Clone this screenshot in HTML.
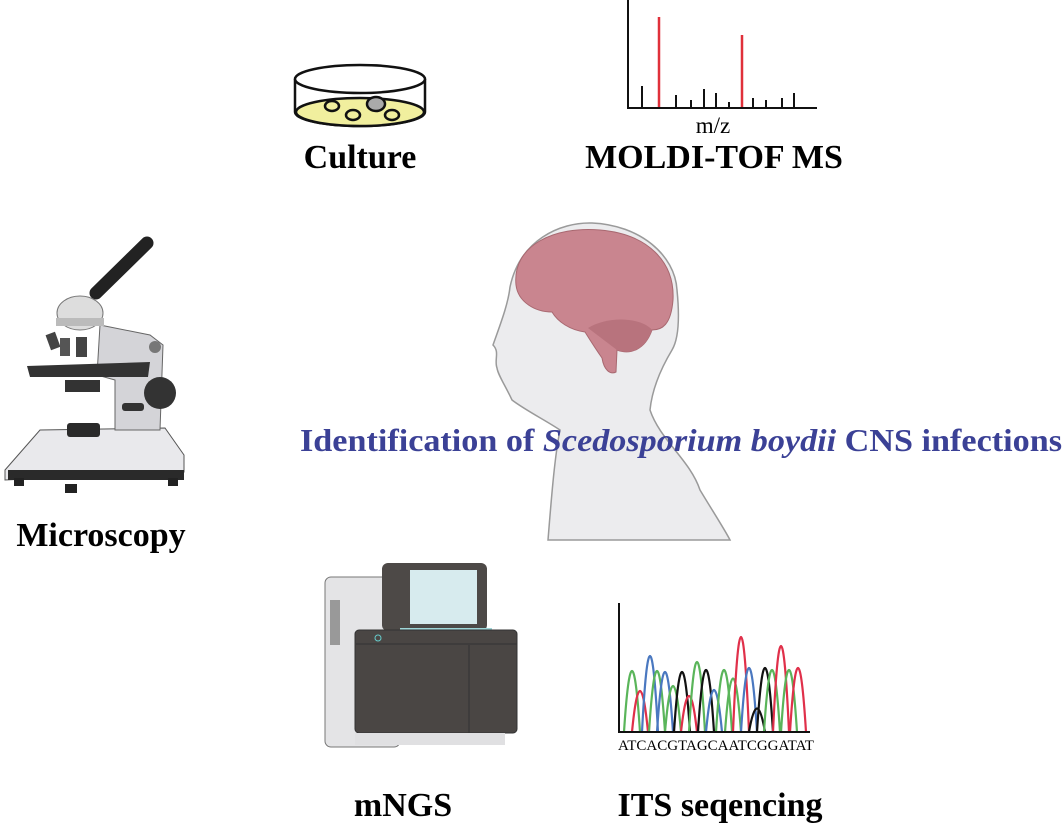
<!DOCTYPE html>
<html><head><meta charset="utf-8"><style>
html,body{margin:0;padding:0;background:#fff}
svg{display:block}
text{font-family:"Liberation Serif",serif}
</style></head><body>
<svg width="1064" height="828" viewBox="0 0 1064 828" xmlns="http://www.w3.org/2000/svg">
<!-- Petri dish -->
<g stroke="#111" stroke-width="2.5">
<path d="M295,79 L295,112 A65,14 0 0 0 425,112 L425,79" fill="#fff"/>
<ellipse cx="360" cy="112" rx="64" ry="14" fill="#f1ef9e"/>
<ellipse cx="360" cy="79" rx="65" ry="14" fill="#fff"/>
<ellipse cx="332" cy="106" rx="7" ry="5" fill="#f1ef9e"/>
<ellipse cx="353" cy="115" rx="7" ry="5" fill="#f1ef9e"/>
<ellipse cx="376" cy="104" rx="9" ry="7" fill="#aaa"/>
<ellipse cx="392" cy="115" rx="7" ry="5" fill="#f1ef9e"/>
</g>
<text x="360" y="168" font-size="34" font-weight="bold" text-anchor="middle">Culture</text>
<!-- MS -->
<g stroke="#111" stroke-width="2">
<line x1="628" y1="0" x2="628" y2="108"/><line x1="627" y1="108" x2="817" y2="108"/>
<line x1="642" y1="86" x2="642" y2="108"/><line x1="676" y1="95" x2="676" y2="108"/>
<line x1="691" y1="100" x2="691" y2="108"/><line x1="704" y1="89" x2="704" y2="108"/>
<line x1="716" y1="93" x2="716" y2="108"/><line x1="729" y1="102" x2="729" y2="108"/>
<line x1="753" y1="98" x2="753" y2="108"/><line x1="766" y1="100" x2="766" y2="108"/>
<line x1="782" y1="98" x2="782" y2="108"/><line x1="794" y1="93" x2="794" y2="108"/>
</g>
<line x1="659" y1="17" x2="659" y2="107" stroke="#e0303a" stroke-width="2.5"/>
<line x1="742" y1="35" x2="742" y2="107" stroke="#e0303a" stroke-width="2.5"/>
<text x="713" y="133" font-size="23" text-anchor="middle">m/z</text>
<text x="714" y="168" font-size="34" font-weight="bold" text-anchor="middle">MOLDI-TOF MS</text>
<!-- Head -->
<path d="M548,540 C552,490 555,455 560,430 C545,420 525,410 512,400 C505,385 498,375 497,368 C494,360 500,352 493,345 C500,325 508,305 510,287 C520,240 560,222 592,223 C640,225 675,255 677,290 C680,320 678,340 672,350 C660,370 652,390 650,410 C660,440 690,460 700,490 C712,510 725,530 730,540 Z" fill="#ececee" stroke="#9a9a9a" stroke-width="1.5"/>
<path d="M516,285 C512,245 555,226 600,230 C648,234 675,262 673,300 C671,325 662,330 652,330 C645,350 630,355 617,350 L616,372 C610,375 604,370 602,358 C595,348 590,340 585,332 C570,330 558,322 552,312 C535,312 518,302 516,285 Z" fill="#c9858f" stroke="#a86870" stroke-width="1"/>
<path d="M588,328 C610,315 642,318 652,330 C645,350 630,355 617,350" fill="#b8737d"/>
<text x="300" y="451" font-size="32" font-weight="bold" fill="#3b4196" textLength="762" lengthAdjust="spacingAndGlyphs">Identification of <tspan font-style="italic">Scedosporium boydii</tspan> CNS infections</text>
<!-- Microscope -->
<path d="M5,470 L40,430 L165,428 L184,455 L184,472 L5,480 Z" fill="#e9e9ec" stroke="#555" stroke-width="1"/>
<rect x="8" y="470" width="176" height="10" fill="#2a2a2a"/>
<rect x="14" y="478" width="10" height="8" fill="#222"/><rect x="65" y="484" width="12" height="9" fill="#222"/><rect x="168" y="478" width="10" height="8" fill="#222"/>
<path d="M100,325 L150,335 L163,345 L160,430 L115,430 L115,380 L97,375 Z" fill="#d4d4d8" stroke="#666" stroke-width="1"/>
<rect x="67" y="423" width="33" height="14" rx="3" fill="#2a2a2a"/>
<circle cx="155" cy="347" r="6" fill="#777"/>
<circle cx="160" cy="393" r="16" fill="#333"/><rect x="122" y="403" width="22" height="8" rx="3" fill="#333"/>
<path d="M27,366 L150,362 L148,377 L30,377 Z" fill="#333"/>
<rect x="65" y="380" width="35" height="12" fill="#333"/>
<line x1="147" y1="243" x2="96" y2="293" stroke="#222" stroke-width="13" stroke-linecap="round"/>
<ellipse cx="80" cy="313" rx="23" ry="17" fill="#ddd" stroke="#777"/>
<rect x="56" y="318" width="48" height="8" fill="#bbb"/>
<rect x="48" y="333" width="10" height="16" fill="#444" transform="rotate(-20 53 341)"/>
<rect x="60" y="338" width="10" height="18" fill="#555"/><rect x="76" y="337" width="11" height="20" fill="#444"/>
<text x="101" y="546" font-size="34" font-weight="bold" text-anchor="middle">Microscopy</text>
<!-- mNGS -->
<rect x="325" y="577" width="75" height="170" rx="6" fill="#e4e4e6" stroke="#777"/>
<rect x="330" y="600" width="10" height="45" fill="#999"/>
<rect x="382" y="563" width="105" height="68" rx="6" fill="#4d4947"/>
<rect x="410" y="570" width="67" height="54" fill="#d7ebee"/>
<rect x="400" y="628" width="92" height="4" fill="#9fd6d8"/>
<rect x="355" y="630" width="162" height="103" rx="4" fill="#4a4644" stroke="#333"/>
<line x1="356" y1="644" x2="517" y2="644" stroke="#333"/>
<line x1="469" y1="645" x2="469" y2="733" stroke="#333"/>
<circle cx="378" cy="638" r="3" fill="none" stroke="#6cc"/>
<rect x="355" y="733" width="150" height="12" fill="#e0e0e2"/>
<text x="403" y="816" font-size="34" font-weight="bold" text-anchor="middle">mNGS</text>
<!-- ITS -->
<g fill="none" stroke-width="2.2">
<path d="M624,732 Q632,610 640,732" stroke="#5ab55a"/>
<path d="M632,732 Q640,650 648,732" stroke="#e0304a"/>
<path d="M642,732 Q650,580 658,732" stroke="#4a78c0"/>
<path d="M649,732 Q657,610 665,732" stroke="#5ab55a"/>
<path d="M657,732 Q665,612 673,732" stroke="#4a78c0"/>
<path d="M665,732 Q673,640 681,732" stroke="#5ab55a"/>
<path d="M674,732 Q682,612 690,732" stroke="#111"/>
<path d="M681,732 Q689,660 697,732" stroke="#e0304a"/>
<path d="M689,732 Q697,592 705,732" stroke="#5ab55a"/>
<path d="M698,732 Q706,608 714,732" stroke="#111"/>
<path d="M706,732 Q714,648 722,732" stroke="#4a78c0"/>
<path d="M716,732 Q724,608 732,732" stroke="#5ab55a"/>
<path d="M725,732 Q733,625 741,732" stroke="#5ab55a"/>
<path d="M733,732 Q741,542 749,732" stroke="#e0304a"/>
<path d="M741,732 Q749,604 757,732" stroke="#4a78c0"/>
<path d="M749,732 Q757,685 765,732" stroke="#111"/>
<path d="M757,732 Q765,604 773,732" stroke="#111"/>
<path d="M764,732 Q772,608 780,732" stroke="#5ab55a"/>
<path d="M773,732 Q781,560 789,732" stroke="#e0304a"/>
<path d="M781,732 Q789,608 797,732" stroke="#5ab55a"/>
<path d="M790,732 Q798,604 806,732" stroke="#e0304a"/>
</g>
<path d="M619,603 L619,732 L810,732" fill="none" stroke="#111" stroke-width="2"/>
<text x="716" y="750" font-size="15" text-anchor="middle">ATCACGTAGCAATCGGATAT</text>
<text x="720" y="816" font-size="34" font-weight="bold" text-anchor="middle">ITS seqencing</text>
</svg>
</body></html>
